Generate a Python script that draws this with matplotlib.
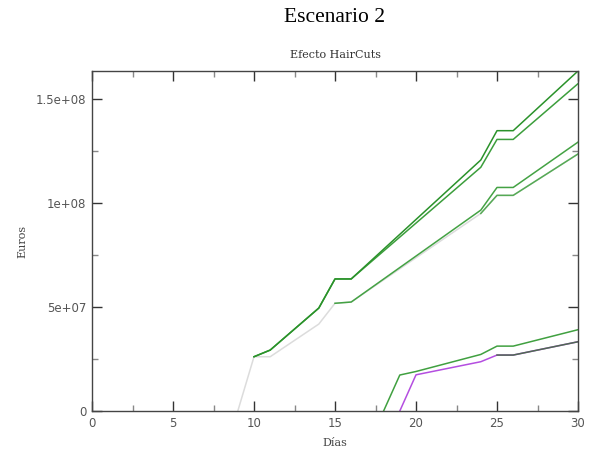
import numpy as np
import matplotlib.pyplot as plt
from matplotlib.ticker import MultipleLocator

# values in millions of euros
gris_dias = [9, 10, 11, 14, 15, 16, 24, 25, 26, 30]
gris_vals = [0, 26.1, 26.1, 41.8, 51.8, 52.4, 95.0, 103.7, 103.7, 123.6]

top_dias = [10, 11, 14, 15, 16, 24, 25, 26, 30]
top_vals = [26.1, 29.3, 49.5, 63.5, 63.5, 120.7, 134.8, 134.8, 163.5]

seg_dias = [10, 11, 14, 15, 16, 24, 25, 26, 30]
seg_vals = [26.1, 29.3, 49.5, 63.5, 63.5, 117.2, 130.6, 130.6, 157.4]

med_dias = [15, 16, 24, 25, 26, 30]
med_vals = [51.8, 52.4, 96.6, 107.5, 107.5, 129.3]

medb_dias = [24, 25, 26, 30]
medb_vals = [95.0, 103.7, 103.7, 123.6]

baj_dias = [18, 19, 20, 24, 25, 26, 30]
baj_vals = [0, 17.3, 19.0, 27.2, 31.2, 31.2, 39.1]

mor_dias = [19, 20, 24, 25, 26, 30]
mor_vals = [0, 17.4, 23.7, 26.9, 26.9, 33.3]

osc_dias = [25, 26, 30]
osc_vals = [26.9, 26.9, 33.3]

series = [
    (gris_dias, gris_vals, '#dcdcdc'),
    (med_dias, med_vals, '#44a244'),
    (medb_dias, medb_vals, '#55aa55'),
    (seg_dias, seg_vals, '#3c9e3c'),
    (top_dias, top_vals, '#2a922a'),
    (baj_dias, baj_vals, '#40a040'),
    (mor_dias, mor_vals, '#b44ee0'),
    (osc_dias, osc_vals, '#4f6a52'),
]

fig = plt.figure(figsize=(5.92, 4.53), dpi=100)
ax = fig.add_axes([92 / 592, 1 - 411 / 453, 486 / 592, 340 / 453])

for d, v, c in series:
    ax.plot(d, np.array(v) * 1e6, color=c, lw=1.1)

ax.set_xlim(0, 30)
ax.set_ylim(0, 163.5e6)
ax.xaxis.set_major_locator(MultipleLocator(5))
ax.xaxis.set_minor_locator(MultipleLocator(2.5))
ax.yaxis.set_major_locator(MultipleLocator(5e7))
ax.yaxis.set_minor_locator(MultipleLocator(2.5e7))
ax.set_yticks([0, 5e7, 1e8, 1.5e8])
ax.set_yticklabels(['0', '5e+07', '1e+08', '1.5e+08'])

ax.tick_params(which='both', direction='in', top=True, right=True,
               labelsize=8.5, labelcolor='#555555', colors='#333333', width=1)
ax.tick_params(which='major', length=7, pad=4)
ax.tick_params(which='minor', length=4, color='#888888')
for s in ax.spines.values():
    s.set_color('#444444')
    s.set_linewidth(1)

ax.set_xlabel('Días', family='DejaVu Serif', fontsize=8, color='#444444')
ax.set_ylabel('Euros', family='DejaVu Serif', fontsize=8, color='#444444')
ax.xaxis.set_label_coords(0.5, (411 - 438) / 340)
ax.yaxis.set_label_coords((27 - 92) / 486, 0.5)
ax.set_title('Efecto HairCuts', family='DejaVu Serif', fontsize=8, color='#333333', pad=9)
fig.text(335 / 592, 1 - 18 / 453, 'Escenario 2', family='Liberation Serif',
         fontsize=15.5, ha='center', va='center')

fig.savefig('out.png', dpi=100)
